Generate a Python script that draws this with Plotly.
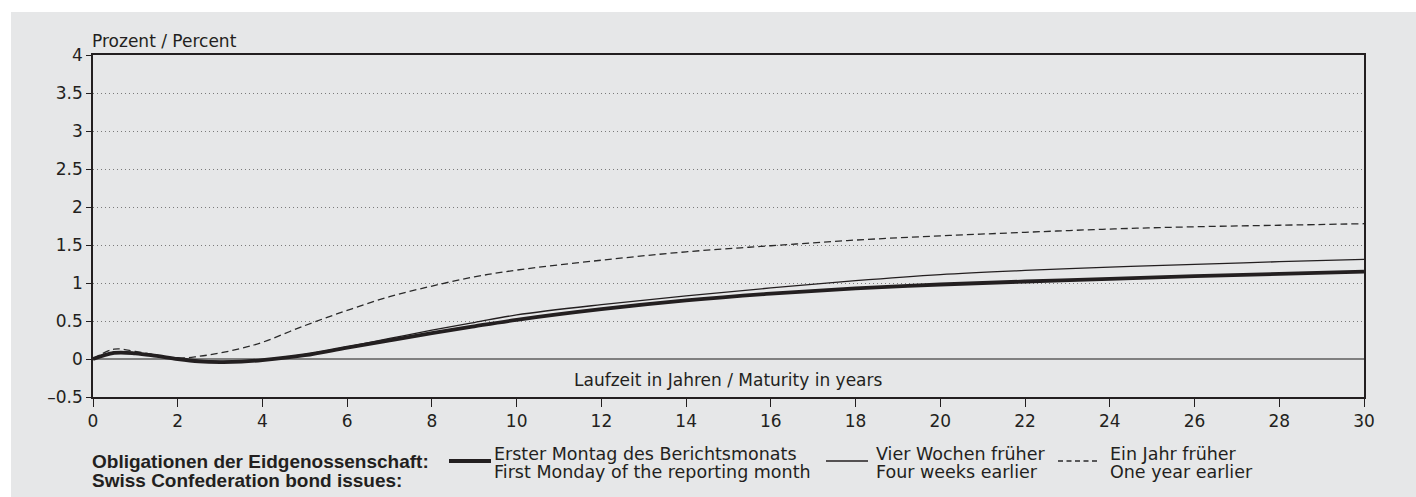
import plotly.graph_objects as go

# ---------------- data ----------------
maturity = [0, 0.5, 1, 1.5, 2, 2.5, 3, 3.5, 4, 5, 6, 7, 8, 9, 10,
            12, 14, 16, 18, 20, 22, 24, 26, 28, 30]
first_monday = [0.0, 0.08, 0.075, 0.04, 0.0, -0.03, -0.04, -0.035, -0.015, 0.05, 0.15, 0.245, 0.34, 0.43, 0.515,
                0.655, 0.77, 0.86, 0.93, 0.98, 1.02, 1.055, 1.09, 1.12, 1.15]
four_weeks = [0.0, 0.09, 0.08, 0.045, 0.005, -0.02, -0.03, -0.025, -0.01, 0.06, 0.16, 0.27, 0.38, 0.48, 0.58,
              0.715, 0.83, 0.935, 1.03, 1.11, 1.165, 1.21, 1.245, 1.28, 1.31]
one_year = [0.0, 0.13, 0.1, 0.05, 0.01, 0.035, 0.08, 0.14, 0.22, 0.44, 0.64, 0.82, 0.96, 1.08, 1.17,
            1.3, 1.41, 1.49, 1.565, 1.62, 1.667, 1.71, 1.74, 1.76, 1.78]

y_tickvals = [-0.5, 0, 0.5, 1, 1.5, 2, 2.5, 3, 3.5, 4]
y_ticktext = ["\u20130.5", "0", "0.5", "1", "1.5", "2", "2.5", "3", "3.5", "4"]
x_tickvals = list(range(0, 31, 2))

series_names = ["Erster Montag des Berichtsmonats", "Vier Wochen früher", "Ein Jahr früher"]
series_names_en = ["First Monday of the reporting month", "Four weeks earlier", "One year earlier"]
legend_title = ["Obligationen der Eidgenossenschaft:", "Swiss Confederation bond issues:"]

# ---------------- layout geometry (screen pixels) ----------------
W, H = 1416, 497
L, T = 93, 55
R = W - 1364
B = H - 397
PW, PH = W - L - R, H - T - B

def px(xs):
    return (xs - L) / PW

def py(ys):
    return (H - B - ys) / PH

INK = "#231f20"
BG = "#e6e7e8"
REG = "DejaVu Sans"
BOLD = "Liberation Sans"

fig = go.Figure()
fig.add_trace(go.Scatter(x=maturity, y=one_year, mode="lines", name=series_names[2],
                         line=dict(color="#2a2a2a", width=1.3, dash="7px,4px", shape="spline")))
fig.add_trace(go.Scatter(x=maturity, y=four_weeks, mode="lines", name=series_names[1],
                         line=dict(color=INK, width=1.3, shape="spline")))
fig.add_trace(go.Scatter(x=maturity, y=first_monday, mode="lines", name=series_names[0],
                         line=dict(color=INK, width=3.8, shape="spline")))

shapes = [
    # white margins at the top and left of the grey panel
    dict(type="rect", xref="paper", yref="paper", x0=px(-20), x1=px(1440), y0=py(12), y1=py(-20),
         fillcolor="white", line=dict(width=0), layer="below"),
    dict(type="rect", xref="paper", yref="paper", x0=px(-20), x1=px(11), y0=py(520), y1=py(-20),
         fillcolor="white", line=dict(width=0), layer="below"),
    # legend keys
    dict(type="line", xref="paper", yref="paper", x0=px(449), x1=px(491), y0=py(461), y1=py(461),
         line=dict(color=INK, width=3.8)),
    dict(type="line", xref="paper", yref="paper", x0=px(826), x1=px(868), y0=py(461), y1=py(461),
         line=dict(color=INK, width=1.3)),
    dict(type="line", xref="paper", yref="paper", x0=px(1058), x1=px(1098), y0=py(461), y1=py(461),
         line=dict(color="#2a2a2a", width=1.3, dash="5px,3.5px")),
]

annotations = [
    dict(text="Prozent / Percent", xref="paper", yref="paper", x=px(90), y=py(41),
         xanchor="left", yanchor="middle", showarrow=False, font=dict(family=REG, size=17, color=INK)),
    dict(text="Laufzeit in Jahren / Maturity in years", xref="paper", yref="paper", x=0.5, y=py(380),
         xanchor="center", yanchor="middle", showarrow=False, font=dict(family=REG, size=17, color=INK)),
    dict(text="<b>" + legend_title[0] + "</b>", xref="paper", yref="paper", x=px(90), y=py(461),
         xanchor="left", yanchor="middle", showarrow=False, font=dict(family=BOLD, size=19, color=INK)),
    dict(text="<b>" + legend_title[1] + "</b>", xref="paper", yref="paper", x=px(90), y=py(480),
         xanchor="left", yanchor="middle", showarrow=False, font=dict(family=BOLD, size=19, color=INK)),
]
for xs, de, en in [(492, series_names[0], series_names_en[0]),
                   (874, series_names[1], series_names_en[1]),
                   (1108, series_names[2], series_names_en[2])]:
    annotations.append(dict(text=de, xref="paper", yref="paper", x=px(xs), y=py(454),
                            xanchor="left", yanchor="middle", showarrow=False,
                            font=dict(family=REG, size=17.5, color=INK)))
    annotations.append(dict(text=en, xref="paper", yref="paper", x=px(xs), y=py(472),
                            xanchor="left", yanchor="middle", showarrow=False,
                            font=dict(family=REG, size=17.5, color=INK)))

fig.update_layout(
    width=W, height=H,
    margin=dict(l=L, r=R, t=T, b=B, pad=0),
    paper_bgcolor=BG, plot_bgcolor=BG,
    showlegend=False,
    shapes=shapes,
    annotations=annotations,
    font=dict(family=REG, size=17, color=INK),
    xaxis=dict(range=[0, 30], tickvals=x_tickvals, ticks="outside", ticklen=8, tickcolor=INK,
               showline=True, linecolor=INK, linewidth=1.5, mirror=True, showgrid=False,
               zeroline=False, tickfont=dict(family=REG, size=17, color=INK), fixedrange=True),
    yaxis=dict(range=[-0.5, 4], tickvals=y_tickvals, ticktext=y_ticktext, ticks="outside",
               ticklen=5, tickcolor=INK, showline=True, linecolor=INK, linewidth=1.5, mirror=True,
               showgrid=True, gridcolor="#7a7a7a", gridwidth=1, griddash="1px,3px",
               zeroline=True, zerolinecolor="#808080", zerolinewidth=1.5,
               tickfont=dict(family=REG, size=17, color=INK), fixedrange=True),
)

fig.write_html("out.html",
               config={"displayModeBar": False},
               post_script="document.body.style.margin='0';document.body.style.overflow='hidden';")
